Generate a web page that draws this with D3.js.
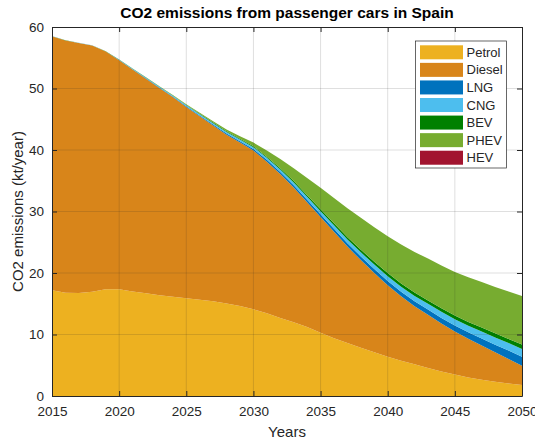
<!DOCTYPE html>
<html>
<head>
<meta charset="utf-8">
<script src="https://cdn.jsdelivr.net/npm/d3@7"></script>
<style>
  body { margin: 0; background: #fff; }
  text { font-family: "Liberation Sans", Arial, sans-serif; fill: #262626; }
</style>
</head>
<body>
<div id="chart-area"></div>
<script>
// Data (kt CO2 per year)
const years = d3.range(2015, 2051);
const petrol = [17.2, 16.8, 16.75, 16.95, 17.35, 17.35, 17.0, 16.7, 16.4, 16.15, 15.9, 15.65, 15.4, 15.05, 14.65, 14.1, 13.45, 12.7, 12.0, 11.2, 10.3, 9.4, 8.6, 7.85, 7.1, 6.4, 5.75, 5.15, 4.55, 4.0, 3.5, 3.0, 2.65, 2.3, 2.05, 1.8];
const diesel = [41.3, 41.0, 40.65, 40.05, 38.65, 37.25, 36.1, 34.9, 33.7, 32.45, 31.1, 29.85, 28.6, 27.45, 26.55, 25.8, 24.65, 23.4, 21.9, 20.3, 18.8, 17.3, 15.7, 14.25, 12.9, 11.6, 10.45, 9.45, 8.65, 7.8, 7.0, 6.3, 5.55, 4.8, 3.95, 3.1];
const lng = [0, 0, 0, 0, 0, 0.03, 0.04, 0.05, 0.07, 0.09, 0.11, 0.13, 0.16, 0.19, 0.22, 0.26, 0.3, 0.34, 0.38, 0.42, 0.46, 0.5, 0.55, 0.6, 0.65, 0.7, 0.75, 0.8, 0.85, 0.9, 0.95, 1.05, 1.15, 1.25, 1.38, 1.5];
const cng = [0.02, 0.02, 0.02, 0.02, 0.03, 0.05, 0.07, 0.09, 0.11, 0.13, 0.15, 0.18, 0.21, 0.24, 0.27, 0.3, 0.34, 0.38, 0.42, 0.46, 0.5, 0.55, 0.6, 0.66, 0.72, 0.78, 0.83, 0.88, 0.93, 0.98, 1.03, 1.08, 1.13, 1.18, 1.22, 1.26];
const bev = [0.01, 0.01, 0.01, 0.01, 0.01, 0.02, 0.03, 0.04, 0.05, 0.06, 0.07, 0.08, 0.09, 0.11, 0.13, 0.15, 0.18, 0.21, 0.24, 0.27, 0.3, 0.34, 0.38, 0.42, 0.46, 0.5, 0.52, 0.54, 0.56, 0.58, 0.6, 0.62, 0.64, 0.66, 0.68, 0.7];
const phev = [0, 0, 0, 0, 0, 0.01, 0.02, 0.03, 0.05, 0.07, 0.1, 0.15, 0.2, 0.3, 0.43, 0.6, 1.0, 1.5, 2.1, 2.8, 3.5, 4.1, 4.7, 5.2, 5.6, 6.0, 6.35, 6.6, 6.8, 6.95, 7.1, 7.25, 7.4, 7.55, 7.7, 7.9];
const hev = years.map(() => 0);

const seriesNames = ["Petrol", "Diesel", "LNG", "CNG", "BEV", "PHEV", "HEV"];
const seriesValues = [petrol, diesel, lng, cng, bev, phev, hev];
const colors = ["#EDB120", "#D8851A", "#0072BD", "#4DBEEE", "#008000", "#77AC30", "#A2142F"];
const xTicks = [2015, 2020, 2025, 2030, 2035, 2040, 2045, 2050];
const yTicks = [0, 10, 20, 30, 40, 50, 60];

// Layout
const W = 535, H = 440;
const margin = { top: 27, right: 13, bottom: 44, left: 52 };
const width = W - margin.left - margin.right;
const height = H - margin.top - margin.bottom;

const svg = d3.select("#chart-area").append("svg")
  .attr("width", W)
  .attr("height", H);

const chart = svg.append("g")
  .attr("transform", `translate(${margin.left}, ${margin.top})`);

const x = d3.scaleLinear().domain([2015, 2050]).range([0, width]);
const y = d3.scaleLinear().domain([0, 60]).range([height, 0]);

// Stack the series
const table = years.map((yr, i) => {
  const row = { year: yr };
  seriesNames.forEach((n, k) => { row[n] = seriesValues[k][i]; });
  return row;
});
const stacked = d3.stack().keys(seriesNames)(table);

const area = d3.area()
  .x(d => x(d.data.year))
  .y0(d => y(d[0]))
  .y1(d => y(d[1]));

chart.selectAll(".layer")
  .data(stacked)
  .enter()
  .append("path")
  .attr("class", "layer")
  .attr("d", area)
  .attr("fill", (d, i) => colors[i]);

// Grid on top of the areas
const grid = chart.append("g");
grid.selectAll(".vg")
  .data(xTicks.slice(1, -1))
  .enter().append("line")
  .attr("x1", d => x(d)).attr("x2", d => x(d))
  .attr("y1", 0).attr("y2", height)
  .attr("stroke", "rgba(38,38,38,0.15)");
grid.selectAll(".hg")
  .data(yTicks.slice(1, -1))
  .enter().append("line")
  .attr("x1", 0).attr("x2", width)
  .attr("y1", d => y(d)).attr("y2", d => y(d))
  .attr("stroke", "rgba(38,38,38,0.15)");

// Axes: ticks point inward, box on all sides
const tickLen = 5;
const xAxis = chart.append("g")
  .attr("transform", `translate(0, ${height})`)
  .call(d3.axisBottom(x).tickValues(xTicks).tickFormat(d3.format("d"))
    .tickSizeInner(-tickLen).tickSizeOuter(0).tickPadding(10));
const xAxisTop = chart.append("g")
  .call(d3.axisTop(x).tickValues(xTicks).tickFormat("")
    .tickSizeInner(-tickLen).tickSizeOuter(0));
const yAxis = chart.append("g")
  .call(d3.axisLeft(y).tickValues(yTicks)
    .tickSizeInner(-tickLen).tickSizeOuter(0).tickPadding(8));
const yAxisRight = chart.append("g")
  .attr("transform", `translate(${width}, 0)`)
  .call(d3.axisRight(y).tickValues(yTicks).tickFormat("")
    .tickSizeInner(-tickLen).tickSizeOuter(0));

[xAxis, xAxisTop, yAxis, yAxisRight].forEach(g => {
  g.select(".domain").attr("stroke", "#262626").attr("stroke-width", 1);
  g.selectAll(".tick line").attr("stroke", "#262626");
  g.selectAll(".tick text")
    .style("font-family", "'Liberation Sans', Arial, sans-serif")
    .style("font-size", "13.5px")
    .attr("fill", "#262626");
});

// Title and axis labels
chart.append("text")
  .attr("x", width / 2)
  .attr("y", -9)
  .attr("text-anchor", "middle")
  .style("font-size", "15.5px")
  .style("font-weight", "bold")
  .style("fill", "#000")
  .text("CO2 emissions from passenger cars in Spain");

chart.append("text")
  .attr("x", width / 2)
  .attr("y", height + 41)
  .attr("text-anchor", "middle")
  .style("font-size", "15px")
  .text("Years");

chart.append("text")
  .attr("transform", "rotate(-90)")
  .attr("x", -height / 2)
  .attr("y", -29)
  .attr("text-anchor", "middle")
  .style("font-size", "15px")
  .text("CO2 emissions (kt/year)");

// Legend
const legend = svg.append("g")
  .attr("transform", "translate(415.5, 41)");
legend.append("rect")
  .attr("width", 91)
  .attr("height", 127)
  .attr("fill", "#fff")
  .attr("stroke", "#262626")
  .attr("stroke-width", 0.7);

const rows = legend.selectAll(".row")
  .data(seriesNames)
  .enter().append("g")
  .attr("transform", (d, i) => `translate(0, ${11.3 + i * 17.57})`);
rows.append("rect")
  .attr("x", 4.5)
  .attr("y", -7)
  .attr("width", 43)
  .attr("height", 14)
  .attr("fill", (d, i) => colors[i]);
rows.append("text")
  .attr("x", 51)
  .attr("dy", "0.35em")
  .style("font-size", "13px")
  .text(d => d);
</script>
</body>
</html>
